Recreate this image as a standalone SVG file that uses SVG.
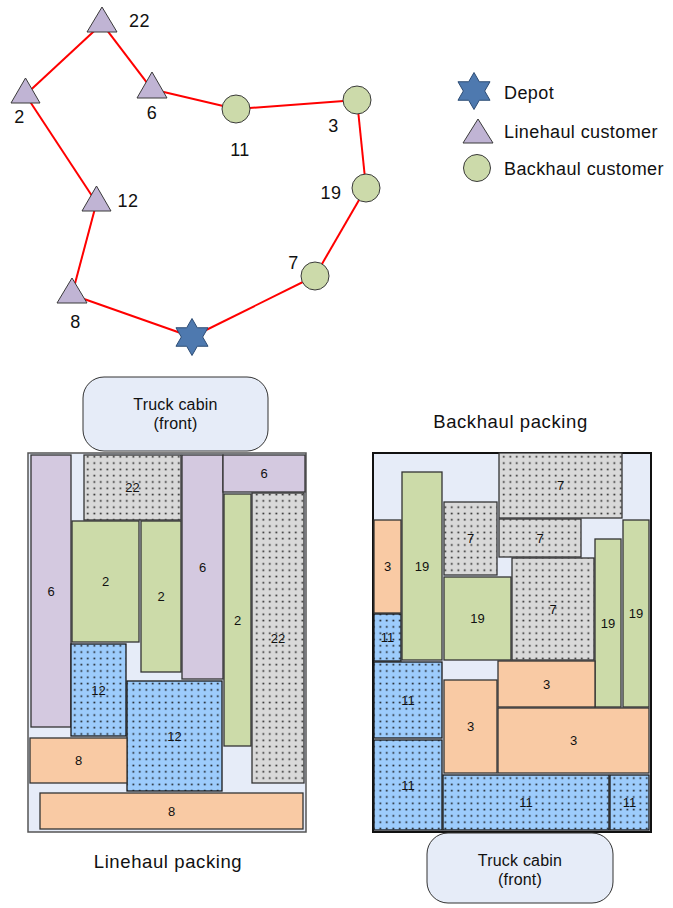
<svg xmlns="http://www.w3.org/2000/svg" xmlns:xlink="http://www.w3.org/1999/xlink" width="673" height="908" viewBox="0 0 673 908">
<style>
text{font-family:"Liberation Sans",Arial,sans-serif;fill:#111}
.lbl{font-size:18px;letter-spacing:0.4px}
.ttl{font-size:18.5px;letter-spacing:0.6px;text-anchor:middle}
.cab{font-size:16px;text-anchor:middle;letter-spacing:0.2px}
.bx{font-size:13px;text-anchor:middle}
.tri{fill:#C0B4D4;stroke:#3a3a3a;stroke-width:1}
.cir{fill:#CCDAAA;stroke:#3a3a3a;stroke-width:1}
.star{fill:#4E79AF;stroke:#2E4D75;stroke-width:1}
.route{stroke:#FF0000;stroke-width:2}
.cont{fill:#E6ECF8}
.cabin{fill:#E6ECF8;stroke:#333;stroke-width:1}
.pu{fill:#D4C9E0;stroke:#333;stroke-width:1.3}
.gr{fill:#CCDBA9;stroke:#333;stroke-width:1.3}
.or{fill:#F9CAA4;stroke:#333;stroke-width:1.3}
.gy{fill:url(#dotGray);stroke:#333;stroke-width:1.3}
.bl{fill:url(#dotBlue);stroke:#1a1a1a;stroke-width:1.3}
</style>
<defs>
<path id="hex" d="M0,-18.5 L5.34,-9.25 L16.02,-9.25 L10.68,0 L16.02,9.25 L5.34,9.25 L0,18.5 L-5.34,9.25 L-16.02,9.25 L-10.68,0 L-16.02,-9.25 L-5.34,-9.25 Z"/>
<pattern id="dotGray" patternUnits="userSpaceOnUse" width="6.5" height="6.3">
<rect width="6.5" height="6.3" fill="#D9D9D9"/>
<rect x="2.5" y="2.4" width="1.6" height="1.6" fill="#1a1a1a"/>
</pattern>
<pattern id="dotBlue" patternUnits="userSpaceOnUse" width="6.5" height="6.3">
<rect width="6.5" height="6.3" fill="#9DCCFC"/>
<rect x="2.5" y="2.4" width="1.6" height="1.6" fill="#111"/>
</pattern>
</defs>
<rect width="673" height="908" fill="#fff"/>

<g id="connectors">
<line class="route" x1="25.5" y1="94.7" x2="102" y2="23.7"/>
<line class="route" x1="102" y1="23.7" x2="152" y2="89.3"/>
<line class="route" x1="152" y1="89.3" x2="236" y2="109"/>
<line class="route" x1="236" y1="109" x2="357" y2="100"/>
<line class="route" x1="357" y1="100" x2="366" y2="188"/>
<line class="route" x1="366" y1="188" x2="315" y2="276"/>
<line class="route" x1="315" y1="276" x2="192" y2="337"/>
<line class="route" x1="192" y1="337" x2="72" y2="294.7"/>
<line class="route" x1="72" y1="294.7" x2="96.5" y2="202.7"/>
<line class="route" x1="96.5" y1="202.7" x2="25.5" y2="94.7"/>
</g>

<g id="node-22"><polygon class="tri" points="102,7 117,32 87,32"/><text class="lbl" x="129" y="27">22</text></g>
<g id="node-2"><polygon class="tri" points="25.5,78 40,103 11,103"/><text class="lbl" x="19.5" y="123" text-anchor="middle">2</text></g>
<g id="node-6"><polygon class="tri" points="152,72 167,98 137,98"/><text class="lbl" x="152" y="119" text-anchor="middle">6</text></g>
<g id="node-12"><polygon class="tri" points="96.5,186 111,211 82,211"/><text class="lbl" x="128" y="207" text-anchor="middle">12</text></g>
<g id="node-8"><polygon class="tri" points="72,278 87,303 57,303"/><text class="lbl" x="75.5" y="328" text-anchor="middle">8</text></g>
<g id="node-11"><circle class="cir" cx="236" cy="109" r="14"/><text class="lbl" x="240" y="156" text-anchor="middle">11</text></g>
<g id="node-3"><circle class="cir" cx="357" cy="100" r="14"/><text class="lbl" x="333.5" y="132" text-anchor="middle">3</text></g>
<g id="node-19"><circle class="cir" cx="366" cy="188" r="14"/><text class="lbl" x="331" y="199" text-anchor="middle">19</text></g>
<g id="node-7"><circle class="cir" cx="315" cy="276" r="14"/><text class="lbl" x="293.5" y="269" text-anchor="middle">7</text></g>
<g id="node-depot"><use href="#hex" xlink:href="#hex" class="star" x="192" y="337"/></g>

<g id="legend">
<use href="#hex" xlink:href="#hex" class="star" x="474" y="91"/>
<text class="lbl" x="504" y="99">Depot</text>
<polygon class="tri" points="478,119 493,143 463,143"/>
<text class="lbl" x="504" y="138">Linehaul customer</text>
<circle class="cir" cx="477" cy="168" r="13.5"/>
<text class="lbl" x="504" y="175">Backhaul customer</text>
</g>

<g id="cabin-top"><rect class="cabin" x="83" y="377" width="185" height="74" rx="21"/><text class="cab" x="175.5" y="410">Truck cabin</text><text class="cab" x="175.5" y="429">(front)</text></g>
<g id="title-backhaul"><text class="ttl" x="510.5" y="428">Backhaul packing</text></g>

<g id="linehaul-container">
<rect class="cont" x="28" y="453" width="278" height="379" stroke="#555" stroke-width="1.5"/>
<g id="lh-6a"><rect class="pu" x="31" y="455" width="40" height="272"/><text class="bx" x="51" y="595.6">6</text></g>
<g id="lh-22a"><rect class="gy" x="84" y="455" width="97" height="65"/><text class="bx" x="132.5" y="492">22</text></g>
<g id="lh-2a"><rect class="gr" x="72" y="521" width="67" height="121"/><text class="bx" x="105.5" y="586">2</text></g>
<g id="lh-2b"><rect class="gr" x="141" y="521" width="40" height="151"/><text class="bx" x="161" y="601">2</text></g>
<g id="lh-6b"><rect class="pu" x="182" y="455" width="41" height="224"/><text class="bx" x="202.5" y="571.6">6</text></g>
<g id="lh-6c"><rect class="pu" x="223" y="455" width="82" height="37"/><text class="bx" x="264" y="478">6</text></g>
<g id="lh-2c"><rect class="gr" x="224" y="494" width="27" height="252"/><text class="bx" x="237.5" y="624.6">2</text></g>
<g id="lh-22b"><rect class="gy" x="252" y="493" width="52" height="290"/><text class="bx" x="278" y="642.6">22</text></g>
<g id="lh-12a"><rect class="bl" x="71" y="644" width="55" height="92"/><text class="bx" x="98.5" y="694.6">12</text></g>
<g id="lh-12b"><rect class="bl" x="127" y="681" width="95" height="110"/><text class="bx" x="174.5" y="740.6">12</text></g>
<g id="lh-8a"><rect class="or" x="30" y="738" width="97" height="45"/><text class="bx" x="78.5" y="765">8</text></g>
<g id="lh-8b"><rect class="or" x="40" y="793" width="263" height="36"/><text class="bx" x="171.5" y="815.6">8</text></g>
</g>
<g id="title-linehaul"><text class="ttl" x="168" y="868">Linehaul packing</text></g>

<g id="backhaul-container">
<rect class="cont" x="373" y="453" width="278" height="379" stroke="#111" stroke-width="2"/>
<g id="bh-3a"><rect class="or" x="374" y="520" width="27" height="93"/><text class="bx" x="387.5" y="571">3</text></g>
<g id="bh-11a"><rect class="bl" x="374" y="614" width="27" height="47"/><text class="bx" x="387.5" y="642">11</text></g>
<g id="bh-19a"><rect class="gr" x="402" y="472" width="40" height="188"/><text class="bx" x="422" y="570.6">19</text></g>
<g id="bh-7a"><rect class="gy" x="444" y="502" width="53" height="73"/><text class="bx" x="470.5" y="543">7</text></g>
<g id="bh-7b"><rect class="gy" x="499" y="453" width="123" height="65"/><text class="bx" x="560.5" y="490">7</text></g>
<g id="bh-7c"><rect class="gy" x="499" y="519" width="82" height="38"/><text class="bx" x="540" y="542.6">7</text></g>
<g id="bh-19b"><rect class="gr" x="444" y="577" width="67" height="83"/><text class="bx" x="477.5" y="623">19</text></g>
<g id="bh-7d"><rect class="gy" x="512" y="558" width="82" height="102"/><text class="bx" x="553" y="613.6">7</text></g>
<g id="bh-19c"><rect class="gr" x="595" y="539" width="26" height="168"/><text class="bx" x="608" y="627.6">19</text></g>
<g id="bh-19d"><rect class="gr" x="623" y="520" width="26" height="187"/><text class="bx" x="636" y="618">19</text></g>
<g id="bh-11b"><rect class="bl" x="374" y="662" width="68" height="76"/><text class="bx" x="408" y="704.6">11</text></g>
<g id="bh-11c"><rect class="bl" x="374" y="740" width="68" height="90"/><text class="bx" x="408" y="789.6">11</text></g>
<g id="bh-3b"><rect class="or" x="444" y="680" width="53" height="93"/><text class="bx" x="470.5" y="731">3</text></g>
<g id="bh-3c"><rect class="or" x="498" y="661" width="97" height="46"/><text class="bx" x="546.5" y="688.6">3</text></g>
<g id="bh-3d"><rect class="or" x="498" y="708" width="151" height="65"/><text class="bx" x="573.5" y="745">3</text></g>
<g id="bh-11d"><rect class="bl" x="443" y="775" width="166" height="55"/><text class="bx" x="526" y="807">11</text></g>
<g id="bh-11e"><rect class="bl" x="610" y="775" width="39" height="55"/><text class="bx" x="629.5" y="807">11</text></g>
</g>

<g id="cabin-bottom"><rect class="cabin" x="427" y="833" width="186" height="70" rx="21"/><text class="cab" x="520" y="866">Truck cabin</text><text class="cab" x="520" y="885">(front)</text></g>
</svg>
